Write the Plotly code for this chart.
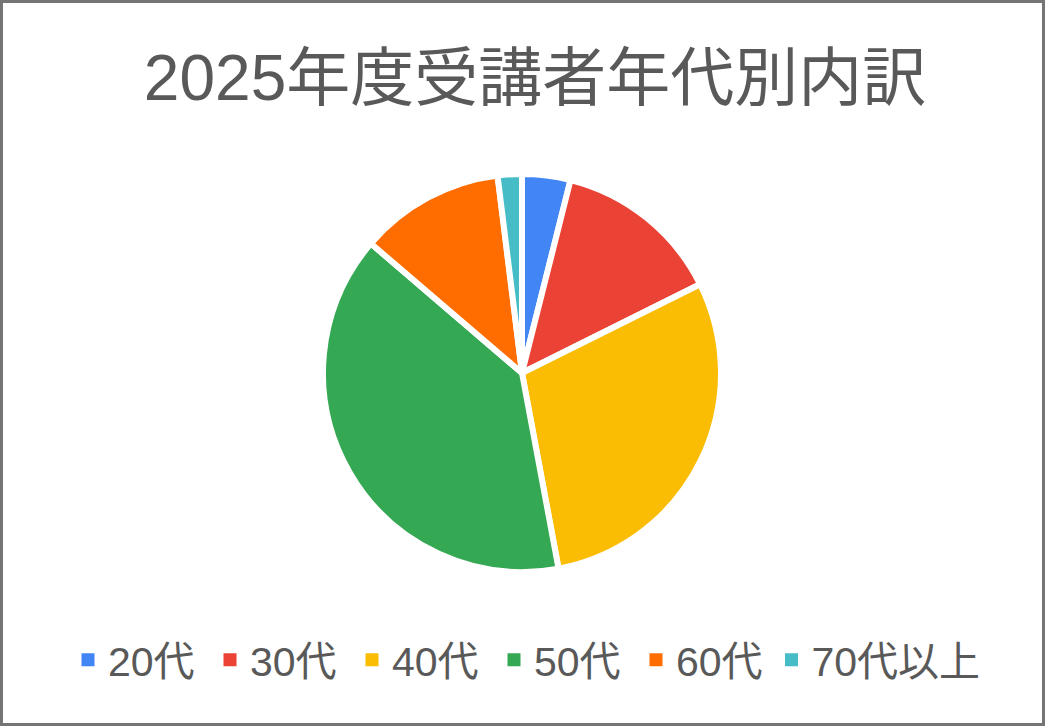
import plotly.graph_objects as go

# 年代別の受講者数
labels = ['20代', '30代', '40代', '50代', '60代', '70代以上']
values = [2, 7, 15, 20, 6, 1]
colors = ['#4285F4', '#EA4335', '#FBBC04', '#34A853', '#FF6D01', '#46BDC6']

W, H = 1045, 726
font_family = 'Liberation Sans, Arial, Noto Sans CJK JP, sans-serif'

# 円の中心と半径（ピクセル）
cx, cy, r = 522, 373, 199

fig = go.Figure()
fig.add_trace(go.Pie(
    labels=labels,
    values=values,
    sort=False,
    direction='clockwise',
    rotation=0,
    textinfo='none',
    hoverinfo='label+value+percent',
    showlegend=False,
    marker=dict(colors=colors, line=dict(color='white', width=6)),
    domain=dict(x=[(cx - r) / W, (cx + r) / W],
                y=[(H - cy - r) / H, (H - cy + r) / H]),
))

# 凡例用（白い区切り線で凡例の四角が小さくならないように）
# 最後の項目は幅が広いので別の凡例に入れる
for i, (lab, col) in enumerate(zip(labels, colors)):
    fig.add_trace(go.Scatter(
        x=[None], y=[None], mode='markers', name=lab,
        marker=dict(symbol='square', size=13, color=col, line=dict(width=0)),
        hoverinfo='skip',
        legend='legend2' if i == len(labels) - 1 else 'legend',
    ))

legend_font = dict(family=font_family, size=41, color='#595959')

fig.update_layout(
    width=W,
    height=H,
    margin=dict(l=0, r=0, t=0, b=0),
    paper_bgcolor='white',
    plot_bgcolor='white',
    xaxis=dict(visible=False),
    yaxis=dict(visible=False),
    title=dict(
        text='2025年度受講者年代別内訳',
        x=0.512, xanchor='center',
        y=1 - 78 / H, yanchor='middle',
        font=dict(family=font_family, size=64, color='#595959'),
    ),
    legend=dict(
        orientation='h',
        x=68 / W, xanchor='left',
        y=66 / H, yanchor='middle',
        itemwidth=30,
        entrywidth=97,
        font=legend_font,
    ),
    legend2=dict(
        orientation='h',
        x=771.5 / W, xanchor='left',
        y=66 / H, yanchor='middle',
        itemwidth=30,
        font=legend_font,
    ),
    shapes=[dict(
        type='rect', xref='paper', yref='paper',
        x0=1.5 / W, x1=1 - 1.5 / W, y0=1.5 / H, y1=1 - 1.5 / H,
        line=dict(color='#757575', width=3),
    )],
)

fig.write_html('out.html', config={'displayModeBar': False},
               post_script="document.body.style.margin='0';")
